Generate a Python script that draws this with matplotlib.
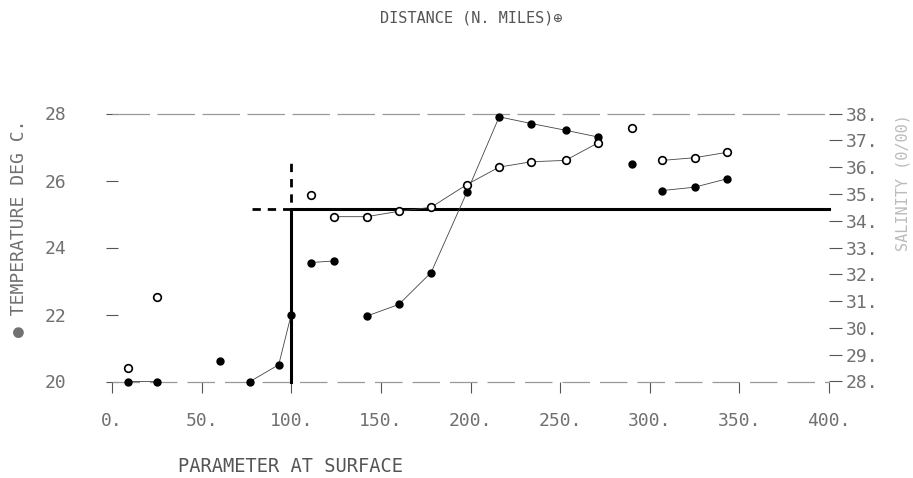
import numpy as np
import matplotlib
matplotlib.use("Agg")
import matplotlib.pyplot as plt

# temperature (filled marks), NaN = pen lifted
dist_temp = [9, 25, np.nan, 60, np.nan, 77, 93, 100, np.nan, 111, 124, np.nan,
             142, 160, 178, 198, 216, 234, 253, 271, np.nan, 290, np.nan, 307, 325, 343]
temp = [20.0, 20.0, np.nan, 20.6, np.nan, 20.0, 20.5, 22.0, np.nan, 23.55, 23.6, np.nan,
        21.95, 22.3, 23.25, 25.65, 27.9, 27.7, 27.5, 27.3, np.nan, 26.5, np.nan, 25.7, 25.8, 26.05]

# salinity (open marks)
dist_sal = [9, np.nan, 25, np.nan, 111, np.nan, 124, 142, 160, 178, 198, 216, 234, 253, 271,
            np.nan, 290, np.nan, 307, 325, 343]
sal = [28.5, np.nan, 31.15, np.nan, 34.95, np.nan, 34.15, 34.15, 34.35, 34.5, 35.35, 36.0, 36.2,
       36.25, 36.9, np.nan, 37.45, np.nan, 36.25, 36.35, 36.55]

# heavy reference line and its dashed extension
step_x = [100, 100, 400]
step_y = [20.0, 25.15, 25.15]
dash_x = [78, 100, 100]
dash_y = [25.15, 25.15, 26.7]

x_ticks = [0, 50, 100, 150, 200, 250, 300, 350, 400]
t_ticks = [20, 22, 24, 26, 28]
s_ticks = list(range(28, 39))

plt.rcParams["font.family"] = ["DejaVu Sans Mono"]
txt = "#707070"

fig = plt.figure(figsize=(9.13, 4.78), dpi=100)
ax = fig.add_axes([112 / 913, 1 - 381.5 / 478, (829 - 112) / 913, (381.5 - 113.5) / 478])
ax2 = ax.twinx()

ax.set_xlim(0, 400)
ax.set_ylim(20, 28)
ax2.set_ylim(28, 38)
for a in (ax, ax2):
    for s in a.spines.values():
        s.set_visible(False)

# faint frame lines top and bottom
ax.plot([0, 400], [28, 28], color="#999999", lw=0.9, dashes=(30, 6), clip_on=False)
ax.plot([0, 400], [20, 20], color="#999999", lw=0.9, dashes=(22, 8), clip_on=False)

ax.plot(step_x, step_y, color="black", lw=2.2, clip_on=False, zorder=3)
ax.plot(dash_x, dash_y, color="black", lw=2.0, dashes=(3, 2.5), clip_on=False, zorder=3)

ax.plot(dist_temp, temp, color="#444444", lw=0.6, marker="o", ms=5,
        mfc="black", mec="black", clip_on=False, zorder=4)
ax2.plot(dist_sal, sal, color="#444444", lw=0.6, marker="o", ms=5.5,
         mfc="white", mec="black", mew=1.2, clip_on=False, zorder=4)

ax.set_xticks(x_ticks)
ax.set_xticklabels([f"{v}." for v in x_ticks])
ax.set_yticks(t_ticks)
ax.set_yticklabels([str(v) for v in t_ticks])
ax2.set_yticks(s_ticks)
ax2.set_yticklabels([f"{v}." for v in s_ticks])

ax.tick_params(axis="x", direction="out", length=8, width=0.8, color="#555555",
               pad=14, labelsize=13, labelcolor=txt)
ax.tick_params(axis="y", direction="inout", length=8, width=0.8, color="#555555",
               pad=29, labelsize=13, labelcolor=txt)
ax2.tick_params(axis="y", direction="out", length=9, width=0.8, color="#555555",
                pad=3, labelsize=13, labelcolor=txt)

fig.text(0.516, 1 - 18 / 478, "DISTANCE (N. MILES)\u2295", ha="center", va="center",
         fontsize=11, color="#555555")
fig.text(178 / 913, 1 - 466 / 478, "PARAMETER AT SURFACE", ha="left", va="center",
         fontsize=13.5, color="#555555")
fig.text(18 / 913, 1 - 228 / 478, "\u25cf TEMPERATURE DEG C.", rotation=90,
         ha="center", va="center", fontsize=13, color="#707070")
fig.text(903 / 913, 1 - 183 / 478, "SALINITY (0/00)", rotation=90,
         ha="center", va="center", fontsize=11, color="#bbbbbb")

fig.savefig("out.png", dpi=100, facecolor="white")
